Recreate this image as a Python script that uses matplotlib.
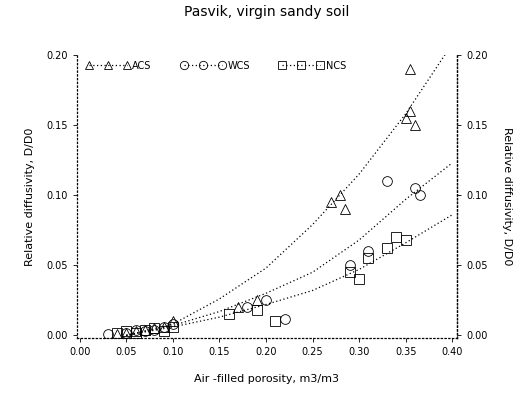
import matplotlib
matplotlib.use("Agg")
import matplotlib.pyplot as plt

acs_x = [0.04, 0.05, 0.06, 0.07, 0.08, 0.09, 0.10, 0.17, 0.19, 0.27, 0.28, 0.285, 0.35, 0.355, 0.36, 0.355]
acs_y = [0.001, 0.002, 0.003, 0.004, 0.005, 0.006, 0.010, 0.020, 0.025, 0.095, 0.100, 0.090, 0.155, 0.160, 0.150, 0.190]

wcs_x = [0.03, 0.05, 0.06, 0.07, 0.08, 0.09, 0.10, 0.18, 0.20, 0.22, 0.29, 0.31, 0.33, 0.36, 0.365]
wcs_y = [0.001, 0.002, 0.004, 0.003, 0.004, 0.006, 0.008, 0.020, 0.025, 0.012, 0.050, 0.060, 0.110, 0.105, 0.100]

ncs_x = [0.04, 0.05, 0.06, 0.07, 0.08, 0.09, 0.10, 0.16, 0.19, 0.21, 0.29, 0.30, 0.31, 0.33, 0.34, 0.35]
ncs_y = [0.002, 0.003, 0.002, 0.004, 0.005, 0.003, 0.006, 0.015, 0.018, 0.010, 0.045, 0.040, 0.055, 0.062, 0.070, 0.068]

# fitted curves
fit_x = [0.05, 0.10, 0.15, 0.20, 0.25, 0.30, 0.35, 0.40]
fit_acs = [0.000, 0.008, 0.026, 0.048, 0.079, 0.115, 0.158, 0.208]
fit_wcs = [0.000, 0.007, 0.017, 0.030, 0.045, 0.068, 0.097, 0.123]
fit_ncs = [0.000, 0.006, 0.013, 0.022, 0.032, 0.047, 0.066, 0.086]

labels = ["ACS", "WCS", "NCS"]
xticks = [0.00, 0.05, 0.10, 0.15, 0.20, 0.25, 0.30, 0.35, 0.40]
yticks = [0.00, 0.05, 0.10, 0.15, 0.20]

fig = plt.figure(figsize=(5.27, 4.04), dpi=100)
ax = fig.add_axes([0.146, 0.163, 0.721, 0.701])

dot = (0, (1, 2))
series = [(acs_x, acs_y, fit_acs, "^"), (wcs_x, wcs_y, fit_wcs, "o"), (ncs_x, ncs_y, fit_ncs, "s")]
handles = []
for (sx, sy, fy, mk), lab in zip(series, labels):
    ax.plot(sx, sy, linestyle="none", marker=mk, markersize=7, markerfacecolor="none",
            markeredgecolor="black", markeredgewidth=0.6)
    ax.plot(fit_x, fy, color="black", linestyle=dot, linewidth=0.9)
    h, = ax.plot([], [], color="black", linestyle=dot, linewidth=0.9, marker=mk, markersize=6,
                 markerfacecolor="none", markeredgecolor="black", markeredgewidth=0.6, label=lab)
    handles.append(h)

ax.set_xlim(-0.003, 0.405)
ax.set_ylim(-0.002, 0.2)
ax.set_xticks(xticks)
ax.set_xticklabels([f"{v:.2f}" for v in xticks])
ax.set_yticks(yticks)
ax.set_yticklabels([f"{v:.2f}" for v in yticks])
ax.tick_params(labelsize=7, length=3, width=0.6, direction="out")

ax.spines["top"].set_visible(False)
for side in ["left", "right", "bottom"]:
    ax.spines[side].set_linestyle(dot)
    ax.spines[side].set_linewidth(0.9)

ax2 = ax.twinx()
ax2.set_ylim(ax.get_ylim())
ax2.set_yticks(yticks)
ax2.set_yticklabels([f"{v:.2f}" for v in yticks])
ax2.tick_params(labelsize=7, length=3, width=0.6)
ax2.spines["top"].set_visible(False)
ax2.spines["left"].set_visible(False)
ax2.spines["bottom"].set_visible(False)
ax2.spines["right"].set_linestyle(dot)
ax2.spines["right"].set_linewidth(0.9)

ax.set_title("Pasvik, virgin sandy soil", fontsize=10, pad=28)
ax.set_xlabel("Air -filled porosity, m3/m3", fontsize=8, labelpad=12)
ax.set_ylabel("Relative diffusivity, D/D0", fontsize=8, labelpad=8)
ax2.set_ylabel("Relative diffusivity, D/D0", fontsize=8, rotation=270, labelpad=18)

ax.legend(handles=handles, ncol=3, loc="upper left", bbox_to_anchor=(0.0, 1.01),
          frameon=False, fontsize=7, handlelength=4.5, numpoints=3, columnspacing=3,
          handletextpad=0.3)

fig.savefig("out.png", dpi=100)
